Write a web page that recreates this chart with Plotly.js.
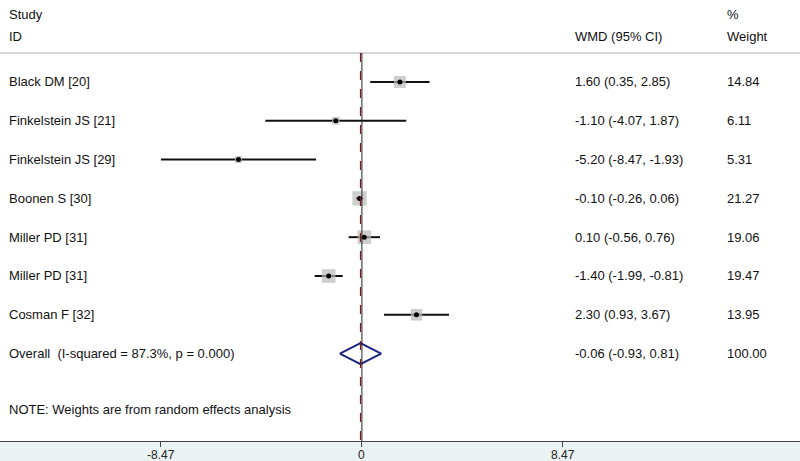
<!DOCTYPE html>
<html><head><meta charset="utf-8">
<script src="https://cdn.plot.ly/plotly-3.0.1.min.js"></script>
<style>html,body{margin:0;padding:0;background:#fff}</style>
</head><body><div id="chart" style="width:800px;height:461px"></div>
<script>
const studies = ["Black DM [20]","Finkelstein JS [21]","Finkelstein JS [29]","Boonen S [30]","Miller PD [31]","Miller PD [31]","Cosman F [32]"];
const est = [1.60,-1.10,-5.20,-0.10,0.10,-1.40,2.30];
const lo = [0.35,-4.07,-8.47,-0.26,-0.56,-1.99,0.93];
const hi = [2.85,1.87,-1.93,0.06,0.76,-0.81,3.67];
const weights = [14.84,6.11,5.31,21.27,19.06,19.47,13.95];
const overallLabel = "Overall  (I-squared = 87.3%, p = 0.000)";
const overall = {est:-0.06, lo:-0.93, hi:0.81, weight:100.00};
const note = "NOTE: Weights are from random effects analysis";
const tickVals = [-8.47, 0, 8.47];
const tickText = ["-8.47","0","8.47"];

const fmt = v => v.toFixed(2);
const rows = studies.map((s,i)=>i);
const FONT = "Liberation Sans, Arial, sans-serif";

const traces = [];
studies.forEach((s,i)=>{
  traces.push({type:'scatter',mode:'lines',x:[lo[i],hi[i]],y:[i,i],line:{color:'#111',width:2},hoverinfo:'skip',showlegend:false});
});
traces.push({type:'scatter',mode:'markers',x:est,y:rows,
  marker:{symbol:'square',color:'#b9b9b9',size:weights.map(w=>3.1*Math.sqrt(w)),line:{width:0}},showlegend:false,hoverinfo:'skip'});
traces.push({type:'scatter',mode:'markers',x:est,y:rows,
  marker:{symbol:'circle',color:'#000',size:5},showlegend:false,hoverinfo:'skip'});
const oy = studies.length;
traces.push({type:'scatter',mode:'lines',x:[overall.lo,overall.est,overall.hi,overall.est,overall.lo],
  y:[oy,oy-0.27,oy,oy+0.27,oy],line:{color:'#1a237e',width:2},showlegend:false,hoverinfo:'skip'});

const ann = [];
const txt = (text,x,y,yref) => ({text:text,x:x,y:y,xref:'paper',yref:yref||'y',xanchor:'left',yanchor:'middle',showarrow:false,
  font:{family:FONT,size:13,color:'#111'}});
ann.push(txt("Study",0.009,-1.75));
ann.push(txt("ID",0.009,-1.16));
ann.push(txt("WMD (95% CI)",0.716,-1.16));
ann.push(txt("%",0.906,-1.75));
ann.push(txt("Weight",0.906,-1.16));
studies.forEach((s,i)=>{
  ann.push(txt(s,0.009,i));
  ann.push(txt(fmt(est[i])+" ("+fmt(lo[i])+", "+fmt(hi[i])+")",0.716,i));
  ann.push(txt(fmt(weights[i]),0.906,i));
});
ann.push(txt(overallLabel,0.009,oy));
ann.push(txt(fmt(overall.est)+" ("+fmt(overall.lo)+", "+fmt(overall.hi)+")",0.716,oy));
ann.push(txt(fmt(overall.weight),0.906,oy));
ann.push(txt(note,0.009,8.45));
tickVals.forEach((v,i)=>{
  ann.push({text:tickText[i],x:v,xref:'x',y:-0.031,yref:'paper',xanchor:'center',yanchor:'middle',showarrow:false,
    font:{family:FONT,size:12,color:'#222'}});
});

const yTop = -2.113, yBot = 9.253, yLine = -0.747;
const shapes = [
  {type:'line',xref:'paper',x0:0,x1:1,yref:'y',y0:yLine,y1:yLine,line:{color:'#c8c8c8',width:1.5}},
  {type:'line',xref:'x',x0:0,x1:0,yref:'y',y0:yLine,y1:yBot,line:{color:'#222',width:1}},
  {type:'line',xref:'x',x0:overall.est,x1:overall.est,yref:'y',y0:yLine,y1:yBot,line:{color:'#7a1a1a',width:1.2,dash:'dash'}}
];

const layout = {
  width:800,height:461,
  margin:{l:0,r:0,t:0,b:20},
  paper_bgcolor:'#eaf2f3',plot_bgcolor:'#ffffff',
  xaxis:{range:[-15.25,18.46],showgrid:false,zeroline:false,showline:true,linecolor:'#444',linewidth:1,
    tickmode:'array',tickvals:tickVals,ticktext:tickText,showticklabels:false,ticks:'outside',ticklen:5,tickcolor:'#444',
    fixedrange:true},
  yaxis:{range:[yBot,yTop],showgrid:false,zeroline:false,showticklabels:false,showline:false,fixedrange:true},
  annotations:ann,shapes:shapes,showlegend:false
};
Plotly.newPlot('chart',traces,layout,{staticPlot:true,displayModeBar:false});
</script></body></html>
